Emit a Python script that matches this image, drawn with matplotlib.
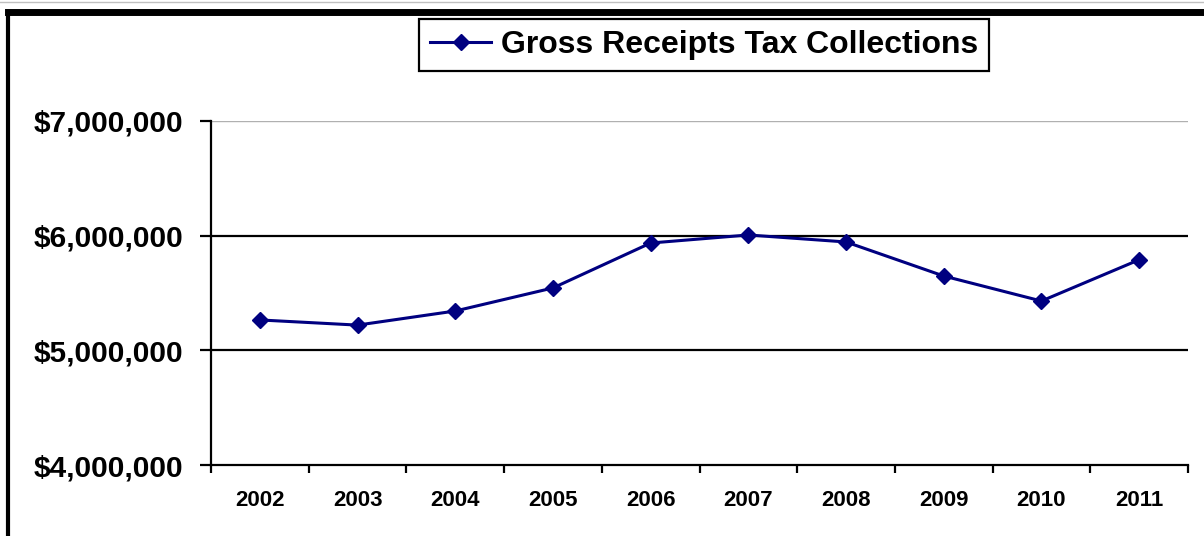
import numpy as np
import matplotlib.pyplot as plt
from matplotlib.lines import Line2D

# data
years = ["2002", "2003", "2004", "2005", "2006", "2007", "2008", "2009", "2010", "2011"]
collections = [5265000, 5220000, 5343000, 5544000, 5936000, 6006000, 5945000, 5648000, 5430000, 5790000]
y_ticks = [4000000, 5000000, 6000000, 7000000]

plt.rcParams['font.family'] = ['Liberation Sans', 'DejaVu Sans']

fig = plt.figure(figsize=(12.04, 5.36), dpi=100)
ax = fig.add_axes([211 / 1204, 1 - 465 / 536, (1188 - 211) / 1204, (465 - 121) / 536])

x = np.arange(len(years))

# gridlines
for v in y_ticks[1:]:
    if v == 7000000:
        ax.axhline(v, color="#b0b0b0", lw=1.0, zorder=1)
    else:
        ax.axhline(v, color="black", lw=1.6, zorder=1)

ax.plot(x, collections, color="#000080", lw=2.2, marker="D", markersize=8.5,
        label="Gross Receipts Tax Collections", zorder=3)

ax.set_xlim(-0.5, len(years) - 0.5)
ax.set_ylim(4000000, 7000000)

ax.set_yticks(y_ticks)
ax.set_yticklabels(["${:,.0f}".format(v) for v in y_ticks], fontsize=21.5, fontweight="bold")
ax.set_xticks(x)
ax.set_xticklabels(years, fontsize=16, fontweight="bold")
ax.set_xticks(np.arange(-0.5, len(years)), minor=True)

ax.tick_params(axis="x", which="major", length=0, pad=18)
ax.tick_params(axis="x", which="minor", length=6, width=1.6, direction="out")
ax.tick_params(axis="y", length=8, width=1.6, direction="out", pad=12)

for s in ["top", "right"]:
    ax.spines[s].set_visible(False)
for s in ["left", "bottom"]:
    ax.spines[s].set_linewidth(1.6)

leg = ax.legend(loc="center", bbox_to_anchor=(704 / 1204, 1 - 45 / 536),
                bbox_transform=fig.transFigure, fancybox=False, framealpha=1,
                edgecolor="black", prop={"size": 23, "weight": "bold"},
                handlelength=1.9, handletextpad=0.3, borderpad=0.35)
leg.get_frame().set_linewidth(1.6)

# outer chart border (cropped at right and bottom)
fig.add_artist(Line2D([8 / 1204, 1], [1 - 11.5 / 536, 1 - 11.5 / 536], color="black", lw=5, transform=fig.transFigure))
fig.add_artist(Line2D([8 / 1204, 8 / 1204], [0, 1 - 11.5 / 536], color="black", lw=3, transform=fig.transFigure))
fig.add_artist(Line2D([0, 1], [1 - 1.5 / 536, 1 - 1.5 / 536], color="#c0c0c0", lw=1, transform=fig.transFigure))

fig.savefig("out.png", dpi=100)
